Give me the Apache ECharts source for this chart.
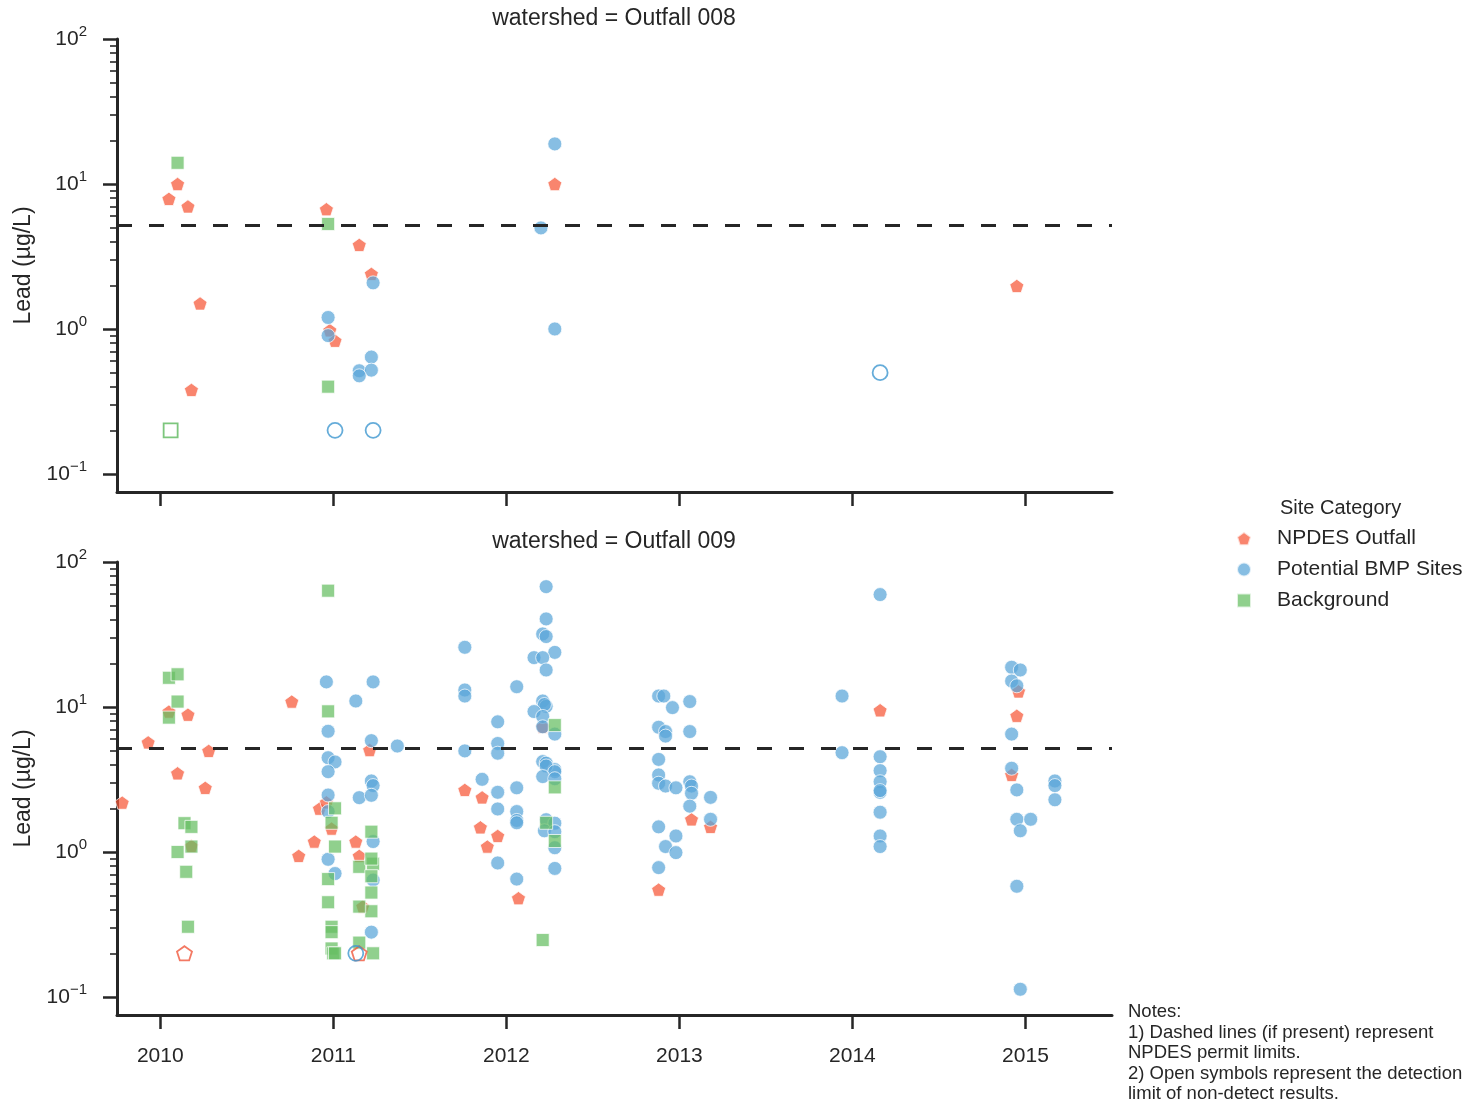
<!DOCTYPE html>
<html>
<head>
<meta charset="utf-8">
<script src="https://cdn.jsdelivr.net/npm/echarts@6/dist/echarts.min.js"></script>
<style>
  html, body { margin: 0; padding: 0; background: #fff; }
  #chart { width: 1473px; height: 1104px; }
</style>
</head>
<body>
<div id="chart"></div>
<script>
// sample date (decimal year), lead in ug/L

var years = [2010, 2011, 2012, 2013, 2014, 2015];
var majorTicks = [0.1, 1, 10, 100];
var minorTicks = [0.2,0.3,0.4,0.5,0.6,0.7,0.8,0.9, 2,3,4,5,6,7,8,9, 20,30,40,50,60,70,80,90];
var permitLimit = 5.2;
var categories = ['NPDES Outfall', 'Potential BMP Sites', 'Background'];

// ---- watershed = Outfall 008
var npdes008 = [
    [2010.10,10.0],[2010.05,7.9],[2010.16,7.0],[2010.23,1.5],[2010.18,0.38],
    [2010.96,6.7],[2011.15,3.8],[2011.22,2.4],[2010.98,0.98],[2011.01,0.83],
    [2012.28,10.0],[2014.95,1.98]
];
var bmp008 = [
    [2010.97,1.2],[2010.97,0.9],[2011.23,2.08],[2011.22,0.64],[2011.15,0.515],
    [2011.22,0.52],[2011.15,0.475],[2012.20,4.98],[2012.28,18.9],[2012.28,1.0]
];
var bg008 = [[2010.10,14.0],[2010.97,5.3],[2010.97,0.40]];
var npdes008ND = [];
var bmp008ND = [[2011.01,0.2],[2011.23,0.2],[2014.16,0.5]];
var bg008ND = [[2010.06,0.2]];

// ---- watershed = Outfall 009
var npdes009 = [
    [2010.05,9.3],[2010.16,8.85],[2009.93,5.7],[2010.28,4.98],[2010.10,3.49],[2010.26,2.77],
    [2009.78,2.19],[2010.18,1.1],
    [2010.76,10.9],[2011.21,5.05],[2010.92,1.99],[2010.96,2.2],[2010.99,1.45],[2010.89,1.18],
    [2010.80,0.94],[2011.13,1.18],[2011.15,0.94],[2011.17,0.42],
    [2011.76,2.68],[2011.86,2.38],[2011.85,1.48],[2011.95,1.29],[2011.89,1.09],[2012.07,0.48],
    [2012.21,7.3],
    [2012.88,0.55],[2013.07,1.68],[2013.18,1.49],
    [2014.16,9.5],[2014.96,12.8],[2014.95,8.7],[2014.92,3.4]
];
var bmp009 = [
    [2010.96,14.9],[2011.23,14.9],[2011.13,11.0],[2010.97,6.8],[2011.22,5.86],[2011.37,5.38],
    [2010.97,4.47],[2011.01,4.18],[2010.97,3.58],[2011.22,3.09],[2011.23,2.87],[2010.97,2.47],
    [2011.15,2.37],[2011.22,2.46],[2010.97,1.9],[2011.23,1.18],[2010.97,0.89],[2011.01,0.71],
    [2011.23,0.64],[2011.22,0.28],
    [2012.23,67.6],[2012.23,40.5],[2012.21,31.9],[2012.23,30.6],[2011.76,25.8],[2012.28,23.8],
    [2012.16,21.9],[2012.21,21.9],[2012.23,18.0],[2012.06,13.8],[2011.76,13.1],[2011.76,11.9],
    [2012.21,11.0],[2012.23,10.1],[2012.22,10.4],[2012.16,9.3],[2012.21,8.6],[2011.95,7.9],
    [2012.21,7.3],[2012.28,6.5],[2011.95,5.6],[2011.76,4.98],[2011.95,4.8],[2012.21,4.2],
    [2012.23,4.1],[2012.28,3.7],[2012.23,3.92],[2012.28,3.58],[2012.21,3.31],[2012.28,3.2],
    [2011.86,3.17],[2011.95,2.58],[2012.06,2.77],[2011.95,1.98],[2012.06,1.9],[2012.06,1.65],
    [2012.06,1.59],[2011.95,0.84],[2012.06,0.65],[2012.23,1.67],[2012.28,1.58],[2012.22,1.4],
    [2012.28,1.38],[2012.28,1.07],[2012.28,0.77],
    [2012.88,11.9],[2012.91,11.9],[2012.96,9.9],[2013.06,10.9],[2012.88,7.25],[2012.92,6.77],
    [2012.92,6.3],[2013.06,6.77],[2012.88,4.35],[2012.88,3.4],[2012.88,2.98],[2012.92,2.85],
    [2012.98,2.77],[2013.06,3.05],[2013.07,2.85],[2013.07,2.54],[2013.06,2.07],[2013.18,2.38],
    [2013.18,1.68],[2012.88,1.49],[2012.98,1.29],[2012.92,1.09],[2012.98,0.99],[2012.88,0.78],
    [2014.16,59.6],[2013.94,11.9],[2013.94,4.84],[2014.16,4.54],[2014.16,3.64],[2014.16,3.05],
    [2014.16,2.58],[2014.16,2.65],[2014.16,1.88],[2014.16,1.29],[2014.16,1.09],
    [2014.92,18.8],[2014.97,18.0],[2014.92,15.1],[2014.95,14.0],[2014.92,6.5],[2014.92,3.78],
    [2014.95,2.68],[2014.95,1.68],[2015.03,1.68],[2014.97,1.4],[2014.95,0.58],[2014.97,0.113],
    [2015.17,3.09],[2015.17,2.87],[2015.17,2.29]
];
var bg009 = [
    [2010.97,63.4],[2010.05,15.9],[2010.10,16.8],[2010.10,10.9],[2010.05,8.45],[2010.14,1.58],
    [2010.18,1.49],[2010.18,1.09],[2010.10,1.0],[2010.15,0.73],[2010.16,0.305],
    [2010.97,9.33],[2011.01,2.0],[2010.99,1.59],[2011.01,1.09],[2011.22,1.38],[2010.97,0.65],
    [2011.15,0.79],[2011.23,0.83],[2011.22,0.9],[2011.22,0.68],[2011.22,0.525],[2011.22,0.39],
    [2010.97,0.45],[2011.15,0.42],[2010.99,0.305],[2010.99,0.28],[2011.15,0.237],[2010.99,0.216],
    [2011.00,0.2],[2011.01,0.2],[2011.23,0.2],
    [2012.28,7.5],[2012.28,2.79],[2012.23,1.59],[2012.28,1.19],[2012.21,0.247]
];
var npdes009ND = [[2010.14,0.2],[2011.15,0.2]];
var bmp009ND = [[2011.13,0.2]];
var bg009ND = [];

var FONT = 'Liberation Sans, Arial, sans-serif';
var INK = '#262626';
var pentagon = 'path://M0,-1L0.951,-0.309L0.588,0.809L-0.588,0.809L-0.951,-0.309Z';

var style = {
    'NPDES Outfall':       { symbol: pentagon, fill: '#f75838', edge: '#f0583c', size: 14 },
    'Potential BMP Sites': { symbol: 'circle', fill: '#5aa6d8', edge: '#3f97cf', size: 14 },
    'Background':          { symbol: 'rect',   fill: '#67bf63', edge: '#5cb85c', size: 13 }
};

function filled(name, data, g){
    var s = style[name];
    return {
        name: name, type: 'scatter', xAxisIndex: g, yAxisIndex: g * 2,
        data: data, symbol: s.symbol, symbolSize: s.size, symbolKeepAspect: true,
        itemStyle: { color: s.fill, opacity: 0.73, borderColor: '#fff', borderWidth: 1 },
        emphasis: { disabled: true }
    };
}
function open(name, data, g){
    var s = style[name];
    return {
        name: name + ' (ND)', type: 'scatter', xAxisIndex: g, yAxisIndex: g * 2,
        data: data, symbol: s.symbol, symbolSize: s.size + 1, symbolKeepAspect: true,
        itemStyle: { color: 'rgba(255,255,255,0)', borderColor: s.edge, borderWidth: 1.8 },
        emphasis: { disabled: true }
    };
}

var panels = [
    { title: 'watershed = Outfall 008', sets: [npdes008, bmp008, bg008], nd: [npdes008ND, bmp008ND, bg008ND] },
    { title: 'watershed = Outfall 009', sets: [npdes009, bmp009, bg009], nd: [npdes009ND, bmp009ND, bg009ND] }
];
var gridTops = [39, 562];

var series = [], xAxes = [], yAxes = [], grids = [], graphics = [];
panels.forEach(function(p, g){
    grids.push({ left: 117, top: gridTops[g], width: 995, height: 453 });
    xAxes.push({
        type: 'value', gridIndex: g, min: 2009.75, max: 2015.5,
        axisLine: { lineStyle: { color: INK, width: 3 } },
        axisTick: { customValues: years, length: 14, lineStyle: { color: INK, width: 2.5 } },
        axisLabel: {
            show: g === 1, customValues: years, fontSize: 21, color: INK, fontFamily: FONT, margin: 31,
            formatter: function(v){ return String(v); }
        },
        splitLine: { show: false }
    });
    yAxes.push({
        type: 'log', gridIndex: g, min: 0.0751, max: 100, position: 'left',
        name: 'Lead (µg/L)', nameLocation: 'middle', nameGap: 78,
        nameTextStyle: { fontSize: 23, color: INK, fontFamily: FONT },
        axisLine: { lineStyle: { color: INK, width: 3 } },
        axisTick: { customValues: majorTicks, length: 14, lineStyle: { color: INK, width: 2.5 } },
        axisLabel: {
            customValues: majorTicks, margin: 30, color: INK, fontFamily: FONT,
            formatter: function(v){
                var e = Math.round(Math.log(v) / Math.LN10);
                return '{b|10}{s|' + String(e).replace('-', '\u2212') + '}';
            },
            rich: {
                b: { fontSize: 21, color: INK, fontFamily: FONT },
                s: { fontSize: 15, color: INK, fontFamily: FONT, padding: [0, 0, 14, 0] }
            }
        },
        splitLine: { show: false }
    });
    // minor ticks
    yAxes.push({
        type: 'log', gridIndex: g, min: 0.0751, max: 100, position: 'left',
        axisLine: { show: false },
        axisTick: { customValues: minorTicks, length: 7, lineStyle: { color: INK, width: 1.6 } },
        axisLabel: { show: false },
        splitLine: { show: false }
    });

    categories.forEach(function(c, i){
        var s = filled(c, p.sets[i], g);
        if (i === 0) {
            s.markLine = {
                silent: true, symbol: 'none', label: { show: false },
                lineStyle: { color: INK, width: 3, type: [15, 17], opacity: 1 },
                data: [{ yAxis: permitLimit }]
            };
        }
        series.push(s);
    });
    categories.forEach(function(c, i){
        series.push(open(c, p.nd[i], g));
    });

    graphics.push({
        type: 'text', x: 614, y: gridTops[g] - 20,
        style: { text: p.title, align: 'center', verticalAlign: 'middle', fontSize: 23, fill: INK, fontFamily: FONT }
    });
});

graphics.push({
    type: 'text', x: 1280, y: 508,
    style: { text: 'Site Category', verticalAlign: 'middle', fontSize: 20, fill: INK, fontFamily: FONT }
});
graphics.push({
    type: 'text', x: 1128, y: 1002,
    style: {
        text: 'Notes:\n1) Dashed lines (if present) represent\nNPDES permit limits.\n2) Open symbols represent the detection\nlimit of non-detect results.',
        fontSize: 18.5, lineHeight: 20.5, fill: INK, fontFamily: FONT
    }
});

var chart = echarts.init(document.getElementById('chart'));
chart.setOption({
    animation: false,
    backgroundColor: '#fff',
    grid: grids,
    xAxis: xAxes,
    yAxis: yAxes,
    legend: {
        data: categories, orient: 'vertical', left: 1231, top: 523,
        itemWidth: 14, itemHeight: 14, itemGap: 10,
        textStyle: { fontSize: 21, color: INK, fontFamily: FONT, padding: [0, 0, 0, 21] }
    },
    graphic: graphics,
    series: series
});
</script>
</body>
</html>
